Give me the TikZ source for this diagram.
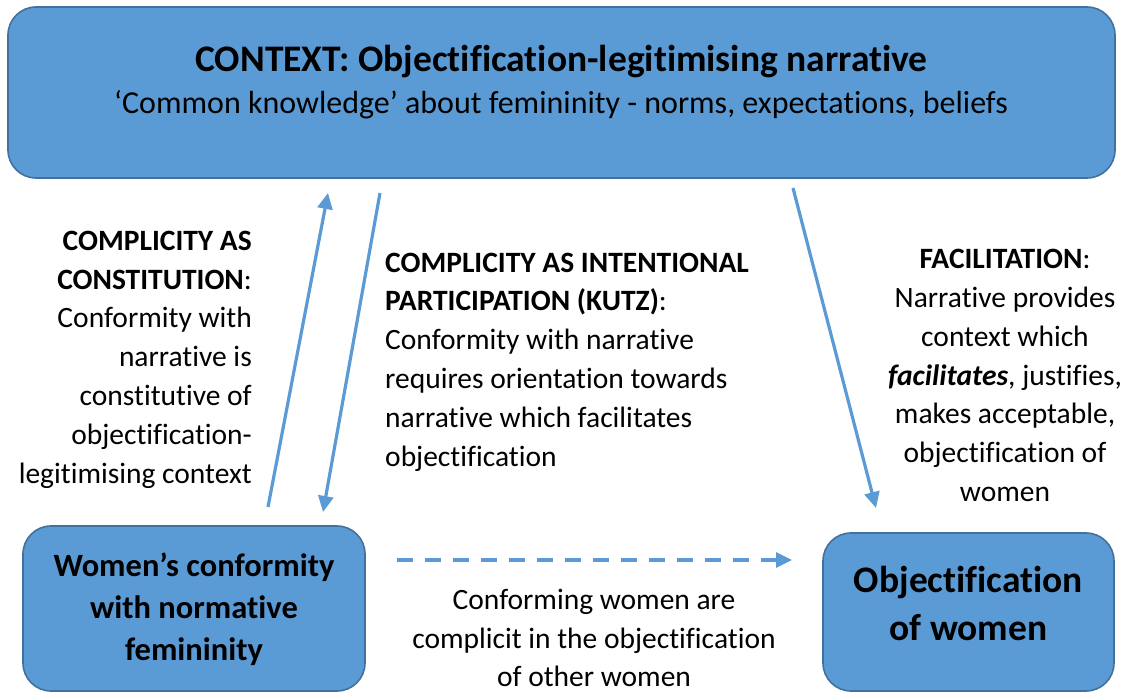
\documentclass[tikz,border=0pt]{standalone}
\usepackage{fontspec}
\setmainfont{Carlito}[Ligatures=NoCommon]
\usetikzlibrary{arrows.meta}
\usetikzlibrary{positioning}
\definecolor{boxblue}{HTML}{5B9BD5}
\definecolor{boxedge}{HTML}{41719C}

\begin{document}
\begin{tikzpicture}
  [x=1pt,y=-1pt,
  blok/.style={rectangle,rounded corners=28pt,fill=boxblue,draw=boxedge,line width=1.6pt,inner sep=0pt},
  txt/.style={inner sep=0pt,font=\fontsize{29.5}{38.8}\selectfont},
  link/.style={boxblue,line width=3.2pt,-{Triangle[length=16pt,width=15pt]}}]
  \useasboundingbox (0,0) rectangle (1128,692);

  \node[blok,minimum width=1107pt,minimum height=171pt] (ctx) at (561.5,92.5) {};
  \node[blok,minimum width=342pt,minimum height=165pt] (conf) at (194,608.5) {};
  \node[blok,minimum width=291pt,minimum height=158pt] (obj) at (968.5,612) {};

  \node[txt,font=\fontsize{37.5}{44}\selectfont\bfseries] (ctxtitle) at (561.5,62) {CONTEXT: Objectification-legitimising narrative};
  \node[txt,font=\fontsize{32}{40}\selectfont] (ctxsub) at (561,105) {‘Common knowledge’ about femininity - norms, expectations, beliefs};

  \node[txt,align=center,font=\fontsize{32.5}{42}\selectfont\bfseries] (conftext) at (194,609) {Women’s conformity\\with normative\\femininity};
  \node[txt,align=center,font=\fontsize{37.5}{48}\selectfont\bfseries] (objtext) at (968.5,603) {Objectification\\of women};

  \node[txt,align=right,anchor=east] (constit) at (252,359.5) {\textbf{COMPLICITY AS}\\\textbf{CONSTITUTION}:\\Conformity with\\narrative is\\constitutive of\\objectification-\\legitimising context};
  \node[txt,align=left,anchor=west] (kutz) at (385,362) {\textbf{COMPLICITY AS INTENTIONAL}\\\textbf{PARTICIPATION (KUTZ)}:\\Conformity with narrative\\requires orientation towards\\narrative which facilitates\\objectification};
  \node[txt,align=center] (facil) at (1005,375.5) {\textbf{FACILITATION}:\\Narrative provides\\context which\\\textbf{\textit{facilitates}}, justifies,\\makes acceptable,\\objectification of\\women};
  \node[txt,align=center] (complicit) at (594,638) {Conforming women are\\complicit in the objectification\\of other women};

  \coordinate (upfoot) at (268,507);
  \coordinate (uptip) at (328,193);
  \coordinate (downfoot) at (380,193);
  \coordinate (downtip) at (323,512);
  \coordinate (facfoot) at (793,188);
  \coordinate (factip) at (876,508);
  \coordinate (dashfoot) at (397,560);
  \coordinate (dashtip) at (792,560);

  \draw [link] (upfoot) -- (uptip);
  \draw [link] (downfoot) -- (downtip);
  \draw [link] (facfoot) -- (factip);
  \draw [link,dash pattern=on 16pt off 12pt] (dashfoot) -- (dashtip);
\end{tikzpicture}
\end{document}
